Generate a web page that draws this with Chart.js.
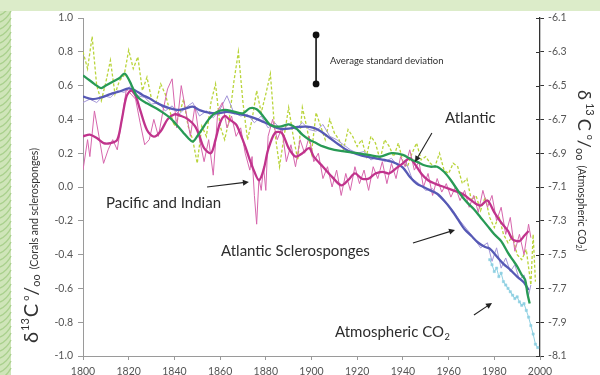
<!DOCTYPE html>
<html><head><meta charset="utf-8">
<script src="https://cdn.jsdelivr.net/npm/chart.js@4/dist/chart.umd.min.js"></script>
<style>html,body{margin:0;padding:0;background:#fff;overflow:hidden}canvas{display:block}</style>
</head><body>
<canvas id="c" width="600" height="375"></canvas>
<script>
// δ13C records 1800-2000: corals / sclerosponges (left axis) and atmospheric CO2 (right axis)

const xTicks = [1800, 1820, 1840, 1860, 1880, 1900, 1920, 1940, 1960, 1980, 2000];

// Atlantic corals, annual-ish raw record (dashed)
const atlanticRawYears = [1800,1802,1804,1806,1808,1810,1812,1814,1816,1818,1820,1822,1824,1826,1828,1830,1832,1834,1836,1838,1840,1842,1844,1846,1848,1850,1852,1854,1856,1858,1860,1862,1864,1866,1868,1870,1872,1874,1876,1878,1880,1882,1884,1886,1888,1890,1892,1894,1896,1898,1900,1902,1904,1906,1908,1910,1912,1914,1916,1918,1920,1922,1924,1926,1928,1930,1932,1934,1936,1938,1940,1942,1944,1946,1948,1950,1952,1954,1956,1958,1960,1962,1964,1966,1968,1970,1972,1974,1976,1978,1980,1982,1984,1986,1988,1990,1992,1994,1996,1997,1998];
const atlanticRaw = [0.80,0.70,0.89,0.60,0.51,0.62,0.75,0.55,0.63,0.66,0.81,0.70,0.77,0.57,0.65,0.52,0.50,0.61,0.55,0.45,0.36,0.42,0.52,0.36,0.28,0.14,0.36,0.30,0.50,0.61,0.36,0.28,0.40,0.62,0.80,0.50,0.28,0.40,0.57,0.44,0.55,0.67,0.32,0.12,0.30,0.47,0.30,0.16,0.47,0.35,0.20,0.44,0.36,0.28,0.40,0.32,0.28,0.22,0.34,0.30,0.24,0.28,0.18,0.30,0.26,0.16,0.28,0.24,0.18,0.26,0.15,0.12,0.20,0.26,0.16,0.18,0.14,0.12,0.20,0.10,0.08,0.14,0.12,0.02,0.05,-0.08,-0.05,-0.14,-0.06,-0.18,-0.24,-0.17,-0.28,-0.33,-0.29,-0.40,-0.43,-0.37,-0.58,-0.28,-0.56];

// Atlantic corals, smoothed
const atlanticYears = [1800,1802,1804,1806,1808,1810,1812,1814,1816,1818,1819,1821,1823,1825,1828,1832,1835,1838,1841,1844,1846,1848,1850,1852,1855,1858,1862,1866,1870,1873,1876,1879,1882,1886,1890,1893,1896,1899,1902,1905,1910,1915,1920,1925,1930,1935,1940,1944,1946,1949,1952,1955,1958,1961,1965,1968,1971,1974,1977,1980,1983,1986,1988,1990,1992,1993.5,1994.5,1995.5];
const atlantic = [0.66,0.64,0.62,0.60,0.585,0.60,0.615,0.63,0.645,0.67,0.66,0.61,0.55,0.52,0.495,0.466,0.44,0.41,0.367,0.32,0.29,0.268,0.30,0.34,0.40,0.44,0.456,0.446,0.436,0.466,0.46,0.416,0.367,0.357,0.37,0.35,0.31,0.28,0.26,0.24,0.22,0.21,0.20,0.19,0.18,0.20,0.19,0.16,0.15,0.13,0.12,0.12,0.09,0.04,-0.04,-0.09,-0.13,-0.18,-0.23,-0.28,-0.32,-0.39,-0.43,-0.47,-0.52,-0.55,-0.63,-0.69];

// Pacific and Indian corals, raw and smoothed
const pacificRawYears = [1800,1802,1803,1805,1807,1809,1811,1813,1815,1817,1819,1821,1823,1825,1827,1829,1831,1833,1835,1837,1839,1841,1843,1845,1847,1849,1851,1853,1855,1857,1859,1861,1863,1865,1867,1869,1871,1873,1874,1875,1876,1877,1878,1879,1880,1881,1883,1885,1887,1889,1891,1893,1895,1897,1899,1901,1903,1905,1907,1909,1911,1913,1915,1917,1919,1921,1923,1925,1927,1929,1931,1933,1935,1937,1939,1941,1943,1945,1947,1949,1951,1953,1955,1957,1959,1961,1963,1965,1967,1969,1971,1973,1975,1977,1979,1981,1983,1985,1987,1989,1991,1993,1995,1996];
const pacificRaw = [0.10,0.28,0.18,0.45,0.30,0.14,0.22,0.28,0.22,0.40,0.58,0.55,0.52,0.38,0.25,0.28,0.40,0.30,0.45,0.58,0.64,0.35,0.60,0.45,0.30,0.48,0.28,0.15,0.28,0.07,0.45,0.50,0.35,0.42,0.30,0.35,0.20,0.10,0.18,-0.05,-0.22,0.05,-0.02,0.12,-0.02,0.30,0.40,0.28,0.35,0.15,0.25,0.12,0.28,0.20,0.30,0.15,0.20,0.05,0.12,0.00,0.10,-0.05,0.08,-0.02,0.12,0.02,0.10,-0.02,0.12,0.05,0.15,0.02,0.14,0.05,0.18,0.12,0.22,0.10,0.15,0.00,0.08,-0.05,0.05,-0.03,0.02,-0.06,0.00,-0.08,-0.02,-0.12,-0.05,-0.15,-0.02,-0.12,-0.05,-0.20,-0.12,-0.28,-0.18,-0.38,-0.28,-0.40,-0.22,-0.30];
const pacificYears = [1800,1803,1806,1809,1812,1815,1817,1819,1821,1823,1825,1828,1831,1834,1837,1840,1843,1846,1849,1851,1853,1856,1858,1860,1862,1864,1867,1869,1871,1873,1875,1877,1879,1881,1884,1887,1890,1893,1896,1899,1901,1905,1909,1913,1916,1919,1922,1925,1928,1931,1934,1937,1940,1943,1945,1948,1951,1954,1958,1962,1966,1969,1972,1974,1977,1980,1983,1986,1988,1991,1993,1995];
const pacific = [0.30,0.31,0.29,0.26,0.26,0.28,0.40,0.535,0.57,0.54,0.456,0.337,0.298,0.33,0.40,0.43,0.42,0.40,0.36,0.30,0.23,0.20,0.28,0.38,0.42,0.40,0.37,0.31,0.24,0.16,0.09,0.04,0.10,0.22,0.32,0.32,0.23,0.18,0.20,0.23,0.18,0.12,0.06,0.01,0.04,0.08,0.05,0.05,0.08,0.09,0.08,0.11,0.14,0.17,0.14,0.08,0.04,0.02,0.00,-0.02,-0.04,-0.07,-0.10,-0.11,-0.08,-0.15,-0.21,-0.26,-0.31,-0.32,-0.29,-0.26];

// Atlantic sclerosponges, raw and smoothed
const spongeRawYears = [1800,1803,1806,1809,1812,1815,1818,1821,1824,1827,1830,1833,1836,1839,1842,1845,1848,1851,1854,1857,1860,1863,1866,1869,1872,1875,1878,1881,1884,1887,1890,1893,1896,1899,1902,1905,1908,1911,1914,1917,1920,1923,1926,1929,1932,1935,1938,1941,1944,1947,1950,1953,1956,1959,1962,1965,1968,1971,1974,1977,1979,1981,1983,1985,1987,1989,1991,1993,1995,1996];
const spongeRaw = [0.50,0.52,0.50,0.54,0.53,0.57,0.56,0.60,0.54,0.53,0.49,0.50,0.45,0.48,0.43,0.47,0.50,0.42,0.45,0.41,0.46,0.54,0.44,0.42,0.43,0.38,0.42,0.35,0.38,0.33,0.37,0.34,0.38,0.34,0.33,0.37,0.30,0.28,0.25,0.22,0.20,0.21,0.16,0.18,0.15,0.17,0.12,0.16,0.05,0.02,-0.02,-0.01,-0.06,-0.10,-0.14,-0.20,-0.25,-0.30,-0.36,-0.33,-0.44,-0.36,-0.48,-0.42,-0.50,-0.46,-0.55,-0.52,-0.64,-0.58];
const spongeYears = [1800,1804,1808,1812,1816,1820,1823,1826,1829,1832,1835,1838,1842,1845,1848,1851,1855,1859,1863,1867,1871,1875,1879,1882,1886,1890,1894,1898,1901,1904,1908,1912,1916,1920,1924,1928,1932,1936,1940,1943,1946,1949,1952,1955,1958,1961,1964,1967,1970,1973,1976,1978,1981,1984,1987,1990,1993,1995];
const sponge = [0.535,0.52,0.53,0.55,0.565,0.584,0.57,0.545,0.525,0.50,0.48,0.466,0.456,0.465,0.476,0.455,0.44,0.436,0.445,0.435,0.424,0.408,0.385,0.367,0.345,0.345,0.355,0.357,0.35,0.33,0.29,0.25,0.215,0.195,0.18,0.17,0.16,0.145,0.115,0.06,0.02,0.00,-0.02,-0.04,-0.08,-0.13,-0.19,-0.25,-0.29,-0.33,-0.355,-0.365,-0.41,-0.455,-0.49,-0.53,-0.565,-0.61];

// Atmospheric CO2 δ13C (right axis)
const co2Years = [1978,1979,1980,1981,1982,1983,1984,1985,1986,1987,1988,1989,1990,1991,1992,1993,1994,1995,1996,1997,1998,1999];
const co2 = [-7.53,-7.56,-7.60,-7.58,-7.63,-7.61,-7.66,-7.68,-7.70,-7.72,-7.74,-7.76,-7.75,-7.78,-7.80,-7.79,-7.83,-7.87,-7.92,-7.97,-8.03,-8.05];

// Average standard deviation bar
const sdYear = 1902;
const sdRange = [0.90, 0.61];

const pts = (xs, ys) => xs.map((x, i) => ({x, y: ys[i]}));

// Text annotations and arrows, in data units of the left axis
const notes = [
  {text: 'Pacific and Indian', x: 1810.1, y: -0.095, size: 15},
  {text: 'Atlantic', x: 1958.4, y: 0.408, size: 15},
  {text: 'Atlantic Sclerosponges', x: 1860.4, y: -0.379, size: 15},
  {text: 'Atmospheric CO', sub: '2', x: 1910.3, y: -0.858, size: 15},
  {text: 'Average standard deviation', x: 1908.1, y: 0.746, size: 9.5}
];
const arrows = [
  [1952.7, 0.32, 1945.3, 0.148],
  [1854.3, 0.0, 1872.6, 0.03],
  [1944.4, -0.331, 1962.8, -0.254],
  [1971.1, -0.757, 1979.0, -0.686]
];

const FONT = 'Lato, "Open Sans", sans-serif';
Chart.defaults.font.family = FONT;

function runs(ctx, list) {
  let x = 0;
  for (const r of list) {
    ctx.font = r.f;
    ctx.fillText(r.t, x, r.dy || 0);
    x += ctx.measureText(r.t).width + (r.gap || 0);
  }
}

const decor = {
  id: 'decor',
  beforeDraw(chart) {
    const ctx = chart.ctx;
    ctx.save();
    ctx.fillStyle = '#fff';
    ctx.fillRect(0, 0, 600, 375);
    ctx.fillStyle = '#cfe5b9';
    ctx.fillRect(0, 0, 11, 375);
    ctx.strokeStyle = '#a9d08c';
    ctx.lineWidth = 1.4;
    for (let y = -20; y < 400; y += 7) {
      ctx.beginPath();
      ctx.moveTo(0, y);
      ctx.quadraticCurveTo(7, y - 3, 11, y - 11);
      ctx.stroke();
    }
    ctx.fillStyle = '#dcecc9';
    ctx.fillRect(0, 0, 600, 11);
    ctx.restore();
  },
  afterDraw(chart) {
    const ctx = chart.ctx;
    const sx = chart.scales.x, sy = chart.scales.y, s2 = chart.scales.y2;
    ctx.save();
    // inward tick marks on the right axis
    ctx.strokeStyle = '#333';
    ctx.lineWidth = 1;
    s2.ticks.forEach(t => {
      const py = Math.round(s2.getPixelForValue(t.value)) + 0.5;
      ctx.beginPath(); ctx.moveTo(s2.left - 4, py); ctx.lineTo(s2.left, py); ctx.stroke();
    });
    // arrows
    ctx.strokeStyle = '#222';
    ctx.fillStyle = '#222';
    ctx.lineWidth = 1.1;
    arrows.forEach(a => {
      const x1 = sx.getPixelForValue(a[0]), y1 = sy.getPixelForValue(a[1]);
      const x2 = sx.getPixelForValue(a[2]), y2 = sy.getPixelForValue(a[3]);
      const ang = Math.atan2(y2 - y1, x2 - x1);
      ctx.beginPath(); ctx.moveTo(x1, y1); ctx.lineTo(x2 - 4 * Math.cos(ang), y2 - 4 * Math.sin(ang)); ctx.stroke();
      ctx.beginPath();
      ctx.moveTo(x2, y2);
      ctx.lineTo(x2 - 6 * Math.cos(ang) + 3 * Math.sin(ang), y2 - 6 * Math.sin(ang) - 3 * Math.cos(ang));
      ctx.lineTo(x2 - 6 * Math.cos(ang) - 3 * Math.sin(ang), y2 - 6 * Math.sin(ang) + 3 * Math.cos(ang));
      ctx.closePath(); ctx.fill();
    });
    // text notes
    ctx.fillStyle = '#2d2d2d';
    ctx.textBaseline = 'middle';
    ctx.textAlign = 'left';
    notes.forEach(n => {
      const px = sx.getPixelForValue(n.x), py = sy.getPixelForValue(n.y);
      ctx.font = n.size + 'px ' + FONT;
      ctx.fillText(n.text, px, py);
      if (n.sub) {
        const w = ctx.measureText(n.text).width;
        ctx.font = (n.size * 0.62) + 'px ' + FONT;
        ctx.fillText(n.sub, px + w + 0.5, py + 5);
      }
    });
    // axis titles
    ctx.fillStyle = '#333';
    ctx.textBaseline = 'alphabetic';
    ctx.save();
    ctx.translate(38, 343);
    ctx.rotate(-Math.PI / 2);
    runs(ctx, [
      {t: 'δ', f: '20px ' + FONT, gap: 1},
      {t: '13', f: '11px ' + FONT, dy: -9, gap: 1},
      {t: 'C', f: '20px ' + FONT, gap: 3},
      {t: 'o', f: '9px ' + FONT, dy: -9},
      {t: '/', f: '20px ' + FONT},
      {t: 'oo', f: '11px ' + FONT, dy: 2, gap: 5},
      {t: '(Corals and sclerosponges)', f: '10.5px ' + FONT}
    ]);
    ctx.restore();
    ctx.save();
    ctx.translate(578, 90);
    ctx.rotate(Math.PI / 2);
    runs(ctx, [
      {t: 'δ', f: '18px ' + FONT, gap: 3},
      {t: '13', f: '11px ' + FONT, dy: -8, gap: 3},
      {t: 'C', f: '18px ' + FONT, gap: 4},
      {t: 'o', f: '9px ' + FONT, dy: -9},
      {t: '/', f: '18px ' + FONT},
      {t: 'oo', f: '11px ' + FONT, dy: 2, gap: 5},
      {t: '(Atmospheric CO', f: '10.5px ' + FONT},
      {t: '2', f: '7px ' + FONT, dy: 2},
      {t: ')', f: '10.5px ' + FONT}
    ]);
    ctx.restore();
    ctx.restore();
  }
};

const thin = {pointRadius: 0, tension: 0, borderWidth: 1, yAxisID: 'y'};
const thick = {pointRadius: 0, tension: 0.3, borderWidth: 2.3, yAxisID: 'y'};

new Chart(document.getElementById('c'), {
  type: 'line',
  data: {
    datasets: [
      Object.assign({label: 'Atlantic (raw)', data: pts(atlanticRawYears, atlanticRaw), borderColor: '#b9d43a', borderDash: [3, 2], order: 7}, thin, {borderWidth: 1.3}),
      Object.assign({label: 'Sclerosponges (raw)', data: pts(spongeRawYears, spongeRaw), borderColor: '#a496d8', order: 6}, thin),
      Object.assign({label: 'Pacific and Indian (raw)', data: pts(pacificRawYears, pacificRaw), borderColor: '#d766ad', order: 5}, thin),
      {label: 'Atmospheric CO2', data: pts(co2Years, co2), yAxisID: 'y2', borderColor: '#8fd0e2', backgroundColor: '#8fd0e2', borderWidth: 1, pointRadius: 1.6, pointStyle: 'rect', pointBorderWidth: 0.5, tension: 0, order: 4},
      Object.assign({label: 'Atlantic Sclerosponges', data: pts(spongeYears, sponge), borderColor: '#5659b5', order: 3}, thick),
      Object.assign({label: 'Pacific and Indian', data: pts(pacificYears, pacific), borderColor: '#c0338c', order: 2}, thick),
      Object.assign({label: 'Atlantic', data: pts(atlanticYears, atlantic), borderColor: '#289a55', order: 1}, thick),
      {label: 'Average standard deviation', data: [{x: sdYear, y: sdRange[0]}, {x: sdYear, y: sdRange[1]}], yAxisID: 'y', borderColor: '#111', backgroundColor: '#111', borderWidth: 1.6, pointRadius: 2.6, order: 0}
    ]
  },
  options: {
    responsive: false,
    animation: false,
    devicePixelRatio: 1,
    layout: {padding: {top: 18, left: 0, right: 0, bottom: 0}},
    plugins: {legend: {display: false}, tooltip: {enabled: false}},
    scales: {
      x: {
        type: 'linear', min: 1800, max: 2000,
        afterFit: s => { s.height = 19; },
        afterBuildTicks: s => { s.ticks = xTicks.map(v => ({value: v})); },
        ticks: {callback: v => String(v), color: '#555', font: {size: 10.5}, padding: 5, maxRotation: 0},
        grid: {drawOnChartArea: false, tickLength: 4, color: '#9a9a9a'},
        border: {color: '#9a9a9a', width: 1}
      },
      y: {
        position: 'left', min: -1, max: 1,
        afterFit: s => { s.width = 83; },
        ticks: {stepSize: 0.2, callback: v => v.toFixed(1), color: '#555', font: {size: 10.5}, padding: 5},
        grid: {drawOnChartArea: false, tickLength: 5, color: '#9a9a9a'},
        border: {color: '#9a9a9a', width: 1}
      },
      y2: {
        position: 'right', min: -8.1, max: -6.1,
        afterFit: s => { s.width = 60; },
        ticks: {stepSize: 0.2, callback: v => v.toFixed(1), color: '#555', font: {size: 10.5}, padding: 4},
        grid: {drawOnChartArea: false, tickLength: 4, color: '#333'},
        border: {color: '#333', width: 1.3}
      }
    }
  },
  plugins: [decor]
});
</script>
</body></html>
